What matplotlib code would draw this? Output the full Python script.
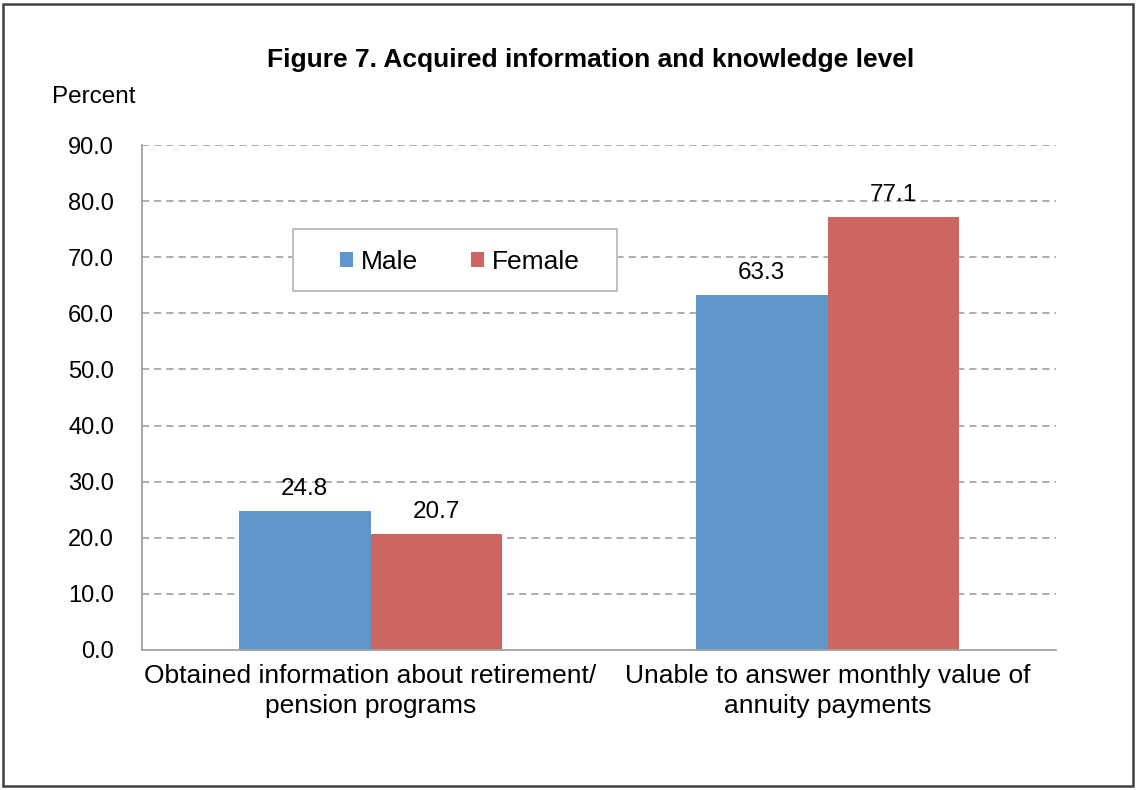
import matplotlib.pyplot as plt
import numpy as np
from matplotlib.patches import Rectangle

plt.rcParams['font.family'] = ['Liberation Sans', 'DejaVu Sans']

categories = ["Obtained information about retirement/\npension programs",
              "Unable to answer monthly value of\nannuity payments"]
male = [24.8, 63.3]
female = [20.7, 77.1]
yticks = [0, 10, 20, 30, 40, 50, 60, 70, 80, 90]

BLUE = '#6097CB'
RED = '#CD6660'
GRID = '#A0A0A0'

W, H = 1136, 790
fig = plt.figure(figsize=(W/100, H/100), dpi=100)
ax = fig.add_axes([142/W, 1 - 650/H, (1056-142)/W, (650-145)/H])

x = np.arange(len(categories))
w = 0.288
b1 = ax.bar(x - w/2, male, w, color=BLUE, label='Male')
b2 = ax.bar(x + w/2, female, w, color=RED, label='Female')

# value labels above bars
for bars, vals in ((b1, male), (b2, female)):
    for r, v in zip(bars, vals):
        ax.text(r.get_x() + r.get_width()/2, v + 2.0, f"{v:.1f}",
                ha='center', va='bottom', fontsize=17.5)

ax.set_xlim(-0.5, 1.5)
ax.set_ylim(0, 90)
ax.set_yticks(yticks)
ax.set_yticklabels([f"{t:.1f}" for t in yticks], fontsize=17)
ax.set_xticks(x)
ax.set_xticklabels(categories, fontsize=19, linespacing=1.3)
ax.tick_params(axis='both', length=0)
ax.tick_params(axis='x', pad=10)
ax.tick_params(axis='y', pad=20)

for t in yticks[1:]:
    ax.axhline(t, color=GRID, lw=1.2, ls=(0, (4.3, 3)), zorder=0)

for s in ('top', 'right'):
    ax.spines[s].set_visible(False)
for s in ('left', 'bottom'):
    ax.spines[s].set_color(GRID)
    ax.spines[s].set_linewidth(1.3)

# legend box drawn separately so the padding can match
fig.patches.append(Rectangle((293/W, 1 - 291/H), 324/W, 62/H, transform=fig.transFigure,
                             facecolor='white', edgecolor='#BBBBBB', lw=1.3, zorder=5))
leg = fig.legend(loc='center', bbox_to_anchor=(460/W, 1 - 262/H),
                 ncol=2, fontsize=19, frameon=False,
                 handlelength=0.5, handleheight=0.5, handletextpad=0.3,
                 columnspacing=2.0, borderpad=0)
leg.set_zorder(6)

fig.text(591/W, 1 - 60/H, "Figure 7. Acquired information and knowledge level",
         ha='center', va='center', fontsize=19, fontweight='bold')
fig.text(52/W, 1 - 97/H, "Percent", ha='left', va='center', fontsize=17.5)

fig.patches.append(Rectangle((3/W, 4/H), 1130/W, 782/H, transform=fig.transFigure,
                             fill=False, edgecolor='#404040', lw=1.8))

fig.savefig('out.png', dpi=100)
